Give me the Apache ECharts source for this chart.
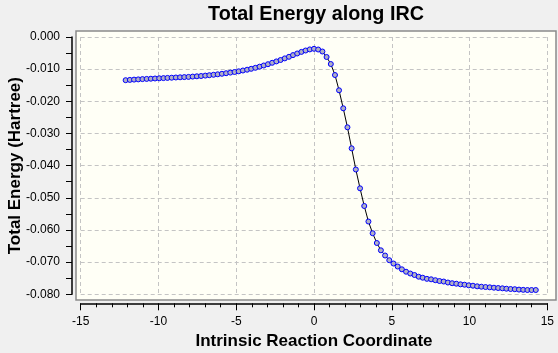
<!DOCTYPE html>
<html>
<head>
<meta charset="utf-8">
<title>Total Energy along IRC</title>
<script src="https://cdn.jsdelivr.net/npm/echarts@6/dist/echarts.min.js"></script>
<style>
    html, body { margin: 0; padding: 0; background: #f0f0f0; }
    #ircChart { width: 558px; height: 353px; }
</style>
</head>
<body>
<div id="ircChart"></div>
<script>
// reaction coordinate (amu^1/2 bohr)
var ircX = [
    -12.11, -11.84, -11.57, -11.30, -11.03, -10.76, -10.49, -10.22, -9.95, -9.68,
    -9.42, -9.15, -8.88, -8.61, -8.34, -8.07, -7.80, -7.53, -7.26, -6.99,
    -6.73, -6.46, -6.19, -5.92, -5.65, -5.38, -5.11, -4.84, -4.57, -4.30,
    -4.04, -3.77, -3.50, -3.23, -2.96, -2.69, -2.42, -2.15, -1.88, -1.61,
    -1.35, -1.08, -0.81, -0.54, -0.27, 0,
    0.27, 0.54, 0.81, 1.08, 1.35, 1.61, 1.88, 2.15, 2.42, 2.69,
    2.96, 3.23, 3.50, 3.77, 4.04, 4.30, 4.57, 4.84, 5.11, 5.38,
    5.65, 5.92, 6.19, 6.46, 6.73, 6.99, 7.26, 7.53, 7.80, 8.07,
    8.34, 8.61, 8.88, 9.15, 9.42, 9.68, 9.95, 10.22, 10.49, 10.76,
    11.03, 11.30, 11.57, 11.84, 12.11, 12.37, 12.64, 12.91, 13.18, 13.45,
    13.72, 13.99, 14.26
];
// total energy (Hartree), relative
var energy = [
    -0.01343, -0.01334, -0.01325, -0.01318, -0.01309, -0.01303, -0.01297, -0.01290, -0.01284, -0.01278,
    -0.01272, -0.01266, -0.01259, -0.01253, -0.01247, -0.01241, -0.01231, -0.01222, -0.01213, -0.01200,
    -0.01188, -0.01175, -0.01160, -0.01144, -0.01126, -0.01107, -0.01088, -0.01067, -0.01042, -0.01017,
    -0.00989, -0.00958, -0.00923, -0.00886, -0.00846, -0.00802, -0.00759, -0.00715, -0.00665, -0.00616,
    -0.00563, -0.00513, -0.00463, -0.00420, -0.00386, -0.00367,
    -0.00389, -0.00451, -0.00622, -0.00840, -0.01182, -0.01657, -0.02217, -0.02808, -0.03461, -0.04120,
    -0.04705, -0.05255, -0.05737, -0.06101, -0.06405, -0.06632, -0.06794, -0.06940, -0.07043, -0.07136,
    -0.07223, -0.07298, -0.07354, -0.07400, -0.07453, -0.07484, -0.07519, -0.07534, -0.07562, -0.07587,
    -0.07603, -0.07634, -0.07655, -0.07671, -0.07690, -0.07702, -0.07721, -0.07733, -0.07752, -0.07764,
    -0.07774, -0.07783, -0.07795, -0.07805, -0.07814, -0.07826, -0.07836, -0.07842, -0.07854, -0.07861,
    -0.07867, -0.07867, -0.07867
];
var xTicks = [-15, -10, -5, 0, 5, 10, 15];
var yTicks = [-0.08, -0.07, -0.06, -0.05, -0.04, -0.03, -0.02, -0.01, 0];

var FONT = '"Liberation Sans", Arial, sans-serif';
var points = ircX.map(function (x, i) {
    return [x, energy[i]];
});

var myChart = echarts.init(document.getElementById('ircChart'));
var option = {
    backgroundColor: '#f0f0f0',
    animation: false,
    title: {
        text: 'Total Energy along IRC',
        left: 311,
        top: 0,
        textAlign: 'center',
        textStyle: {
            fontFamily: FONT,
            fontSize: 19.75,
            fontWeight: 'bold',
            color: '#000'
        }
    },
    // plot frame, a bit larger than the axis range
    graphic: [{
        type: 'rect',
        z: -10,
        shape: { x: 76, y: 31, width: 480, height: 269 },
        style: { fill: '#fffff6', stroke: '#8a8a8a', lineWidth: 1.5 }
    }],
    grid: {
        left: 80.7,
        top: 37,
        width: 466.6,
        height: 257.3,
        outerBoundsMode: 'none',
        containLabel: false
    },
    xAxis: {
        type: 'value',
        min: xTicks[0],
        max: xTicks[xTicks.length - 1],
        interval: 5,
        offset: 9,
        name: 'Intrinsic Reaction Coordinate',
        nameLocation: 'middle',
        nameGap: 30,
        nameMoveOverlap: false,
        nameTextStyle: {
            fontFamily: FONT,
            fontSize: 17,
            fontWeight: 'bold',
            color: '#000'
        },
        axisLine: {
            onZero: false,
            lineStyle: { color: '#000', width: 1.5 }
        },
        axisTick: {
            length: 7,
            lineStyle: { color: '#000' }
        },
        minorTick: {
            show: true,
            splitNumber: 5,
            length: 4,
            lineStyle: { color: '#000' }
        },
        axisLabel: {
            margin: 12,
            fontFamily: FONT,
            fontSize: 12,
            color: '#000'
        },
        splitLine: {
            show: true,
            lineStyle: { color: '#c4c4c4', type: [4, 3] }
        }
    },
    yAxis: {
        type: 'value',
        min: yTicks[0],
        max: yTicks[yTicks.length - 1],
        interval: 0.01,
        offset: 8.7,
        name: 'Total Energy (Hartree)',
        nameLocation: 'middle',
        nameGap: 48,
        nameMoveOverlap: false,
        nameTextStyle: {
            fontFamily: FONT,
            fontSize: 17,
            fontWeight: 'bold',
            color: '#000'
        },
        axisLine: {
            show: true,
            onZero: false,
            lineStyle: { color: '#000', width: 1.5 }
        },
        axisTick: {
            show: true,
            length: 6,
            lineStyle: { color: '#000' }
        },
        minorTick: {
            show: true,
            splitNumber: 2,
            length: 6,
            lineStyle: { color: '#000' }
        },
        axisLabel: {
            margin: 12,
            fontFamily: FONT,
            fontSize: 12,
            color: '#000',
            formatter: function (v) {
                return Math.abs(v) < 1e-9 ? '0.000' : v.toFixed(3);
            }
        },
        splitLine: {
            show: true,
            lineStyle: { color: '#c4c4c4', type: [4, 3] }
        }
    },
    series: [{
        name: 'Total Energy',
        type: 'line',
        data: points,
        symbol: 'circle',
        symbolSize: 5,
        showSymbol: true,
        itemStyle: {
            color: '#b0b0c4',
            borderColor: '#0000ff',
            borderWidth: 1
        },
        lineStyle: {
            color: '#000',
            width: 1
        }
    }]
};
myChart.setOption(option);
</script>
</body>
</html>
